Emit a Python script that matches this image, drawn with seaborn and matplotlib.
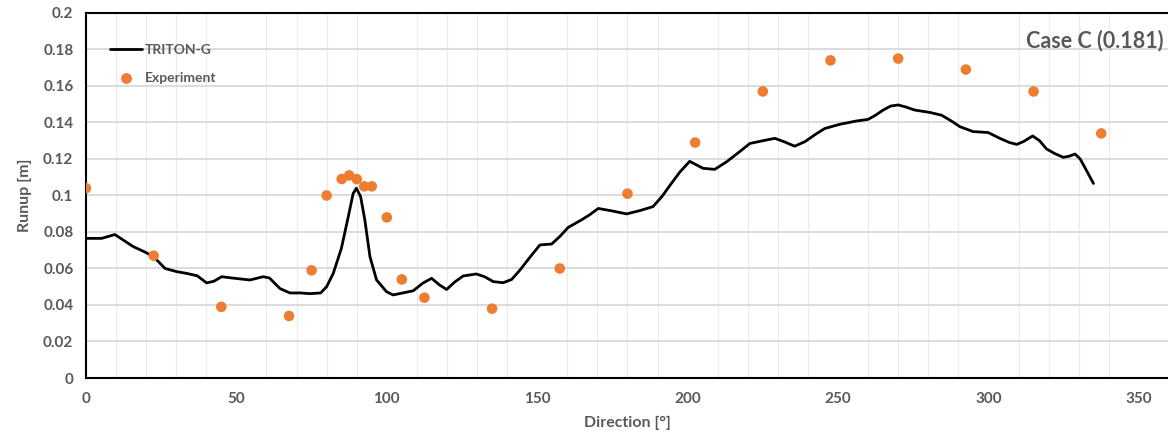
import numpy as np
import pandas as pd
import seaborn as sns
import matplotlib.pyplot as plt
from matplotlib.ticker import MultipleLocator, FuncFormatter
from matplotlib.lines import Line2D

# TRITON-G simulated runup along direction
sim_dir = [0, 5.2, 9.6, 15.7, 19.6, 22.4, 26.3, 30.1, 33.5, 37, 40.1, 42.5, 45.1, 49,
           54.5, 58.9, 61, 64.5, 67.8, 71.4, 74.4, 78, 80, 82.2, 84.9, 87.2, 88.8,
           89.9, 91.3, 92.7, 94.4, 96.6, 99.9, 102.1, 108.8, 112, 114.9, 117.5, 119.9,
           122.5, 125.4, 129.8, 132.5, 135.4, 138.7, 141.5, 144.2, 147.5, 150.9, 154.8,
           157.5, 160.3, 164.7, 167.5, 170.3, 175, 179.7, 184.1, 188.5, 191.5, 194.6,
           197.5, 200.7, 205.1, 209, 213, 217.3, 220.7, 225, 229, 232, 235.6, 239,
           242.5, 245.6, 250.6, 256.1, 260, 262.5, 265, 267.5, 270, 272.5, 275.5,
           280.5, 284.4, 287.5, 290.5, 294.9, 299.9, 303.8, 307, 309.4, 311.6, 314.7,
           317, 319.3, 322, 324.9, 326.8, 328.8, 330.5, 332.5, 334.9]
sim_runup = [0.0765, 0.0765, 0.0786, 0.072, 0.069, 0.0666, 0.0600, 0.0583, 0.0573, 0.0560,
             0.0521, 0.0530, 0.0555, 0.0547, 0.0537, 0.0555, 0.0548, 0.0490, 0.0466,
             0.0466, 0.0462, 0.0466, 0.0500, 0.0573, 0.0710, 0.0884, 0.1010, 0.1040,
             0.0994, 0.0866, 0.0665, 0.0537, 0.0473, 0.0455, 0.0478, 0.0520, 0.0546,
             0.0510, 0.0485, 0.0525, 0.0559, 0.0570, 0.0555, 0.0528, 0.0522, 0.0540,
             0.0590, 0.0660, 0.0729, 0.0734, 0.0775, 0.0825, 0.0866, 0.0895, 0.0929,
             0.0915, 0.0899, 0.0917, 0.0939, 0.0995, 0.1066, 0.1130, 0.1187, 0.1149,
             0.1143, 0.1185, 0.1240, 0.1285, 0.1300, 0.1313, 0.1295, 0.1270, 0.1295,
             0.1335, 0.1367, 0.1390, 0.1408, 0.1417, 0.1440, 0.1468, 0.1490, 0.1496,
             0.1485, 0.1468, 0.1455, 0.1440, 0.1410, 0.1377, 0.1350, 0.1345, 0.1313,
             0.1290, 0.1280, 0.1295, 0.1326, 0.1300, 0.1255, 0.1230, 0.1209, 0.1215,
             0.1227, 0.1200, 0.1140, 0.1066]

# Experiment measurements
exp_dir = [0, 22.5, 45, 67.5, 75, 80, 85, 87.5, 90, 92.5, 95, 100, 105, 112.5, 135,
           157.5, 180, 202.5, 225, 247.5, 270, 292.5, 315, 337.5]
exp_runup = [0.104, 0.067, 0.039, 0.034, 0.059, 0.100, 0.109, 0.111, 0.109, 0.105, 0.105,
             0.088, 0.054, 0.044, 0.038, 0.060, 0.101, 0.129, 0.157, 0.174, 0.175, 0.169,
             0.157, 0.134]

sns.set_style("white")
plt.rcParams['font.family'] = ['Lato', 'DejaVu Sans']
plt.rcParams['font.weight'] = 'bold'

grey = '#595959'
orange = '#ED7D31'

sim_df = pd.DataFrame({'Direction': sim_dir, 'Runup': sim_runup})
exp_df = pd.DataFrame({'Direction': exp_dir, 'Runup': exp_runup})

fig = plt.figure(figsize=(11.68, 4.32), dpi=100)
ax = fig.add_axes([0.0736, 0.125, 0.9272, 0.845])

sns.lineplot(data=sim_df, x='Direction', y='Runup', color='black', linewidth=2.0,
             solid_joinstyle='round', ax=ax, zorder=3)
sns.scatterplot(data=exp_df, x='Direction', y='Runup', color=orange, s=58,
                edgecolor='none', ax=ax, zorder=4)

ax.set_xlim(0, 360)
ax.set_ylim(0, 0.2)
ax.xaxis.set_major_locator(MultipleLocator(50))
ax.xaxis.set_minor_locator(MultipleLocator(10))
ax.yaxis.set_major_locator(MultipleLocator(0.02))
ax.yaxis.set_major_formatter(FuncFormatter(lambda v, p: '0' if abs(v) < 1e-9 else f'{v:.2f}'.rstrip('0')))

ax.grid(False)
ax.grid(axis='y', which='major', color='#d9d9d9', linewidth=1.3, zorder=0)
ax.grid(axis='x', which='minor', color='#ebebeb', linewidth=1.0, zorder=0)
ax.set_axisbelow(True)

for side in ['left', 'bottom', 'top']:
    ax.spines[side].set_color('black')
    ax.spines[side].set_linewidth(1.5)
ax.spines['right'].set_visible(False)

ax.tick_params(axis='both', which='both', length=0, labelsize=11, labelcolor=grey)
ax.tick_params(axis='x', pad=10)
ax.tick_params(axis='y', pad=9)
for lbl in ax.get_xticklabels() + ax.get_yticklabels():
    lbl.set_fontweight('bold')

ax.set_xlabel('Direction [°]', fontsize=11.5, color=grey, fontweight='bold', labelpad=7)
ax.set_ylabel('Runup [m]', fontsize=11.5, color=grey, fontweight='bold', labelpad=8)

ax.text(0.995, 0.925, 'Case C (0.181)', transform=ax.transAxes, ha='right', va='center',
        fontsize=15.5, color=grey, fontweight='bold')

handles = [Line2D([0], [0], color='black', linewidth=2.0),
           Line2D([0], [0], marker='o', linestyle='none', color=orange, markersize=7.8,
                  markeredgewidth=0)]
leg = ax.legend(handles, ['TRITON-G', 'Experiment'], loc='upper left',
                bbox_to_anchor=(0.011, 0.95), frameon=False, handlelength=2.3,
                labelspacing=1.2, fontsize=10, handletextpad=0.2)
for t in leg.get_texts():
    t.set_color(grey)

fig.savefig('out.png', dpi=100)
